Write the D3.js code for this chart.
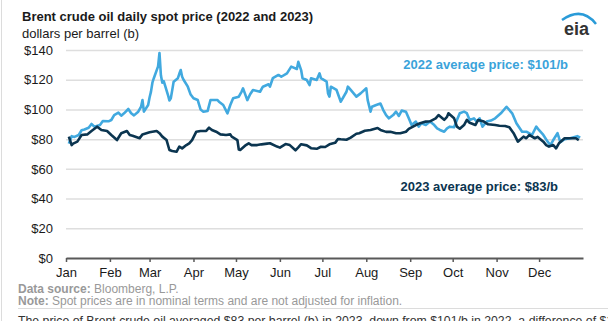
<!DOCTYPE html>
<html>
<head>
<meta charset="utf-8">
<script src="https://cdn.jsdelivr.net/npm/d3@7"></script>
<style>
  body { margin: 0; background: #fff; }
  svg { display: block; font-family: "Liberation Sans", Arial, sans-serif; }
</style>
</head>
<body>
<div class="chart"></div>
<script>
// Brent spot, [month-day, $/b]
const brent2022 = [
  ['01-03', 77], ['01-05', 82], ['01-07', 81.5], ['01-10', 82.8], ['01-12', 86], ['01-14', 86.5],
  ['01-17', 87.7], ['01-19', 90.2], ['01-21', 88.4], ['01-25', 89.5], ['01-27', 92.2], ['01-31', 92],
  ['02-02', 92.9], ['02-04', 96.2], ['02-07', 97.8], ['02-09', 95.8], ['02-11', 97.4], ['02-14', 100.3],
  ['02-16', 97.4], ['02-18', 96], ['02-21', 98.5], ['02-23', 101.8], ['02-24', 106.3], ['02-25', 98.5],
  ['02-28', 103], ['03-01', 108], ['03-02', 112], ['03-03', 118], ['03-04', 121], ['03-07', 129],
  ['03-08', 138], ['03-09', 123], ['03-10', 118], ['03-11', 119], ['03-14', 109.7], ['03-15', 106],
  ['03-16', 107.5], ['03-17', 113], ['03-18', 118.7], ['03-21', 121], ['03-22', 124], ['03-23', 126.5],
  ['03-24', 122], ['03-25', 120], ['03-28', 115.3], ['03-30', 110], ['04-01', 107.5], ['04-04', 106.3],
  ['04-06', 100], ['04-08', 98.5], ['04-11', 99], ['04-13', 106.3], ['04-18', 106.3], ['04-19', 105.2],
  ['04-22', 103], ['04-25', 97.4], ['04-27', 103], ['04-29', 107.5], ['05-03', 108.6], ['05-05', 112],
  ['05-06', 114.2], ['05-09', 106.3], ['05-11', 110.2], ['05-13', 113.1], ['05-18', 111.9], ['05-20', 115.3],
  ['05-24', 116.9], ['05-25', 115.3], ['05-27', 121], ['05-31', 123.2], ['06-02', 122], ['06-06', 124.3],
  ['06-09', 128.8], ['06-13', 127.2], ['06-14', 132], ['06-16', 126.5], ['06-17', 121], ['06-20', 119.8],
  ['06-22', 116.4], ['06-23', 121], ['06-27', 119.8], ['06-29', 124.3], ['06-30', 121], ['07-04', 118.7],
  ['07-05', 110.8], ['07-06', 108.6], ['07-07', 115.3], ['07-11', 113.1], ['07-14', 105.2], ['07-18', 111.9],
  ['07-19', 115.3], ['07-21', 113.1], ['07-25', 108.6], ['07-28', 110.8], ['08-01', 114.2], ['08-02', 106.3],
  ['08-04', 98.5], ['08-05', 101.8], ['08-08', 103], ['08-11', 104], ['08-13', 99.6], ['08-15', 96.2],
  ['08-17', 94], ['08-20', 96.2], ['08-22', 98.5], ['08-24', 95.6], ['08-26', 99.2], ['08-29', 98.5],
  ['08-31', 94], ['09-02', 89.5], ['09-05', 91.8], ['09-07', 88.4], ['09-09', 90.7], ['09-12', 89.5],
  ['09-15', 91.8], ['09-18', 89.5], ['09-20', 87.3], ['09-22', 86.2], ['09-25', 85], ['09-27', 87.3],
  ['09-29', 88.4], ['10-02', 88], ['10-04', 92.9], ['10-06', 97.4], ['10-09', 98.5], ['10-11', 97.5],
  ['10-13', 92.9], ['10-16', 94], ['10-18', 91.8], ['10-20', 94], ['10-22', 88.4], ['10-25', 91.8],
  ['10-28', 92.5], ['10-31', 94], ['11-04', 97.4], ['11-08', 101.8], ['11-12', 97.4], ['11-15', 90.7],
  ['11-19', 85], ['11-22', 85], ['11-26', 82.8], ['11-29', 88.4], ['12-01', 86], ['12-04', 82.8],
  ['12-07', 78.3], ['12-09', 76], ['12-11', 79.4], ['12-14', 84], ['12-16', 78], ['12-19', 80],
  ['12-23', 80.6], ['12-28', 82], ['12-30', 81]
]

const brent2023 = [
  ['01-03', 81.7], ['01-05', 76], ['01-06', 77], ['01-09', 78.3], ['01-12', 82.8], ['01-16', 83.2],
  ['01-19', 85.5], ['01-23', 88.4], ['01-26', 86.2], ['01-30', 85.5], ['02-02', 82.8], ['02-06', 79.4],
  ['02-09', 84], ['02-13', 85.5], ['02-15', 82.8], ['02-17', 82.3], ['02-22', 80.6], ['02-24', 83.2],
  ['03-01', 84.6], ['03-06', 85.5], ['03-08', 84], ['03-10', 81.7], ['03-13', 79.4], ['03-15', 72.7],
  ['03-17', 72], ['03-20', 71.5], ['03-22', 75], ['03-24', 73.8], ['03-27', 76], ['03-29', 77.2],
  ['03-31', 79.4], ['04-03', 85], ['04-06', 85.5], ['04-10', 85.5], ['04-12', 87.7], ['04-14', 86.2],
  ['04-17', 85], ['04-20', 83.2], ['04-24', 82.8], ['04-27', 83.2], ['04-28', 81.7], ['05-02', 79.4],
  ['05-03', 73], ['05-04', 72.7], ['05-08', 76], ['05-10', 77.2], ['05-12', 76], ['05-16', 76],
  ['05-19', 76.5], ['05-23', 77], ['05-25', 77.2], ['05-30', 75], ['06-01', 74.3], ['06-05', 76.7],
  ['06-08', 76], ['06-12', 72.5], ['06-14', 74.5], ['06-16', 76.6], ['06-20', 75.8], ['06-23', 73.9],
  ['06-27', 73.5], ['06-30', 74.9], ['07-03', 74.7], ['07-06', 76.5], ['07-10', 77.5], ['07-12', 80.1],
  ['07-14', 79.9], ['07-18', 79.6], ['07-21', 81], ['07-25', 83.6], ['07-27', 84], ['07-31', 85.6],
  ['08-04', 86.2], ['08-09', 87.5], ['08-11', 86.2], ['08-15', 84.9], ['08-18', 85], ['08-22', 84],
  ['08-25', 84], ['08-29', 85], ['08-31', 86.9], ['09-05', 89.5], ['09-08', 90.7], ['09-12', 91.8],
  ['09-15', 92], ['09-19', 94], ['09-21', 96.2], ['09-25', 93], ['09-27', 95], ['09-28', 97.4],
  ['10-02', 94], ['10-04', 88.4], ['10-06', 87], ['10-09', 89.5], ['10-11', 92.9], ['10-13', 91],
  ['10-17', 89.5], ['10-19', 92.9], ['10-23', 91.8], ['10-26', 90], ['10-31', 89.5], ['11-03', 89],
  ['11-07', 88.8], ['11-10', 88], ['11-13', 84], ['11-16', 78.3], ['11-20', 81.7], ['11-22', 80.6],
  ['11-24', 82.8], ['11-28', 80.6], ['11-30', 81.5], ['12-04', 78.3], ['12-06', 76], ['12-08', 75],
  ['12-11', 76], ['12-13', 73.8], ['12-15', 77.2], ['12-19', 80.6], ['12-22', 80.6], ['12-27', 80.6],
  ['12-29', 79.4]
]

const yTicks = [0, 20, 40, 60, 80, 100, 120, 140]
const monthLabels = ['Jan', 'Feb', 'Mar', 'Apr', 'May', 'Jun', 'Jul', 'Aug', 'Sep', 'Oct', 'Nov', 'Dec']

const title = 'Brent crude oil daily spot price (2022 and 2023)'
const subtitle = 'dollars per barrel (b)'
const label2022 = '2022 average price: $101/b'
const label2023 = '2023 average price: $83/b'
const footText = 'The price of Brent crude oil averaged $83 per barrel (b) in 2023, down from $101/b in 2022, a difference of $18/b'

window.onload = () => {
    let W = 608, H = 321
    let left = 66, right = 583, top = 50, bottom = 258

    let svg = d3.select('.chart')
        .append('svg')
        .attr('width', W)
        .attr('height', H)

    // all days mapped onto one generic year
    let parse = d3.timeParse('%Y-%m-%d')
    let toPts = (arr) => arr.map(d => ({ date: parse('2023-' + d[0]), v: d[1] }))

    let x = d3.scaleTime()
        .domain([new Date(2023, 0, 1), new Date(2024, 0, 1)])
        .range([left, right])
    let y = d3.scaleLinear()
        .domain([0, 140])
        .range([bottom, top])

    svg.append('line')
        .attr('x1', 1.5).attr('x2', 1.5)
        .attr('y1', 0).attr('y2', H)
        .attr('stroke', '#dcdcdc')

    svg.append('text')
        .attr('x', 22).attr('y', 21)
        .style('font-size', '13px')
        .style('font-weight', 'bold')
        .attr('fill', '#1a1a1a')
        .text(title)
    svg.append('text')
        .attr('x', 22).attr('y', 37.5)
        .style('font-size', '13px')
        .attr('fill', '#1a1a1a')
        .text(subtitle)

    // eia logo
    svg.append('path')
        .attr('d', 'M562,20 Q582,6 596,24')
        .attr('fill', 'none')
        .attr('stroke', '#2a9bd8')
        .attr('stroke-width', 2.5)
    svg.append('text')
        .attr('x', 564).attr('y', 35)
        .style('font-size', '18px')
        .style('font-weight', 'bold')
        .attr('fill', '#333')
        .text('eia')

    // grid + y labels
    let yAxis = d3.axisLeft(y)
        .tickValues(yTicks)
        .tickSize(-(right - left))
        .tickFormat(d => '$' + d)
        .tickPadding(13)
    let gy = svg.append('g')
        .attr('transform', `translate(${left},0)`)
        .call(yAxis)
    gy.select('.domain').remove()
    gy.selectAll('.tick line')
        .attr('stroke', '#dedede')
        .attr('stroke-width', 1.5)
        .filter(d => d == 0).remove()
    gy.selectAll('.tick text')
        .attr('fill', '#1a1a1a')
        .style('font-size', '13px')
        .style('font-family', '"Liberation Sans", Arial, sans-serif')

    let line = d3.line()
        .x(d => x(d.date))
        .y(d => y(d.v))

    svg.append('path')
        .datum(toPts(brent2022))
        .attr('d', line)
        .attr('fill', 'none')
        .attr('stroke', '#41a9df')
        .attr('stroke-width', 2.6)
        .attr('stroke-linejoin', 'round')

    svg.append('path')
        .datum(toPts(brent2023))
        .attr('d', line)
        .attr('fill', 'none')
        .attr('stroke', '#0b3550')
        .attr('stroke-width', 2.6)
        .attr('stroke-linejoin', 'round')

    // x axis
    let months = d3.timeMonth.range(new Date(2023, 0, 1), new Date(2024, 0, 1))
    let xAxis = d3.axisBottom(x)
        .tickValues(months)
        .tickFormat((d, i) => monthLabels[i])
        .tickSizeInner(4)
        .tickSizeOuter(0)
        .tickPadding(6)
    let gx = svg.append('g')
        .attr('transform', `translate(0,${bottom})`)
        .call(xAxis)
    gx.select('.domain')
        .attr('stroke', '#595959')
        .attr('stroke-width', 2)
    gx.selectAll('.tick line')
        .attr('stroke', '#595959')
        .attr('stroke-width', 1.5)
    gx.selectAll('.tick text')
        .attr('fill', '#1a1a1a')
        .style('font-size', '13px')
        .style('font-family', '"Liberation Sans", Arial, sans-serif')

    svg.append('text')
        .attr('x', 568).attr('y', 69)
        .attr('text-anchor', 'end')
        .style('font-size', '13px')
        .style('font-weight', 'bold')
        .attr('fill', '#3aa3da')
        .text(label2022)
    svg.append('text')
        .attr('x', 558).attr('y', 190.5)
        .attr('text-anchor', 'end')
        .style('font-size', '13px')
        .style('font-weight', 'bold')
        .attr('fill', '#0b3550')
        .text(label2023)

    // source + note
    let src = svg.append('text')
        .attr('x', 18).attr('y', 292.5)
        .style('font-size', '12px')
        .attr('fill', '#999')
    src.append('tspan').style('font-weight', 'bold').text('Data source: ')
    src.append('tspan').text('Bloomberg, L.P.')
    let note = svg.append('text')
        .attr('x', 18).attr('y', 305)
        .style('font-size', '12px')
        .attr('fill', '#999')
    note.append('tspan').style('font-weight', 'bold').text('Note: ')
    note.append('tspan').text('Spot prices are in nominal terms and are not adjusted for inflation.')

    svg.append('line')
        .attr('x1', 18).attr('x2', W)
        .attr('y1', 308.5).attr('y2', 308.5)
        .attr('stroke', '#dcdcdc')

    svg.append('text')
        .attr('x', 18).attr('y', 325)
        .style('font-size', '12.3px')
        .attr('fill', '#333')
        .text(footText)
}
</script>
</body>
</html>
